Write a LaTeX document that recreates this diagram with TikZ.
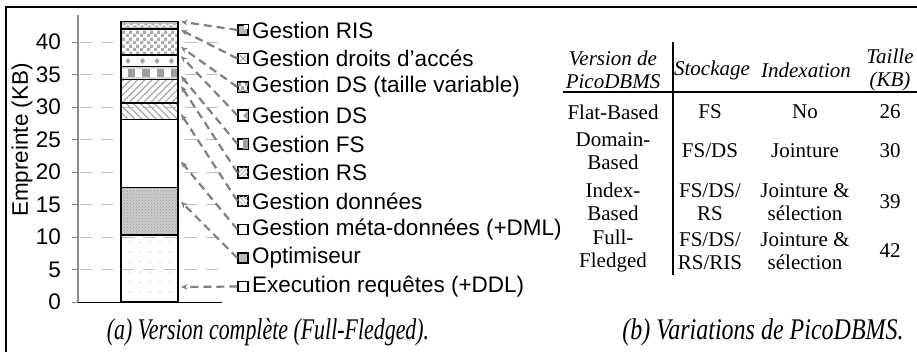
\documentclass[tikz,border=0pt]{standalone}
\usepackage{fontspec}
\setmainfont{Liberation Serif}
\setsansfont{Liberation Sans}
\usepackage{graphicx}
\usetikzlibrary{patterns,patterns.meta,arrows.meta}
\pgfdeclarepatternformonly{bigcheck}{\pgfpointorigin}{\pgfpoint{7pt}{7pt}}{\pgfpoint{7pt}{7pt}}{%
  \pgfpathrectangle{\pgfpointorigin}{\pgfpoint{3.5pt}{3.5pt}}%
  \pgfpathrectangle{\pgfpoint{3.5pt}{3.5pt}}{\pgfpoint{3.5pt}{3.5pt}}%
  \pgfusepath{fill}}
\begin{document}
\begin{tikzpicture}[x=1pt,y=-1pt,
  lbl/.style={font=\sffamily\fontsize{22.5}{24}\selectfont, anchor=west, inner sep=0pt},
  ticklbl/.style={font=\sffamily\fontsize{22.5}{24}\selectfont, anchor=east, inner sep=0pt},
  seg/.style={draw=black, line width=1.3pt},
  legbox/.style={draw=black, line width=1.2pt, minimum size=10pt, inner sep=0pt},
  lead/.style={draw=gray, line width=2.2pt, dash pattern=on 8pt off 5pt, -{Stealth[length=6.5pt,width=5.5pt]}},
  gridln/.style={draw=gray!50, line width=0.8pt, dash pattern=on 12pt off 9pt},
  tabtxt/.style={font=\fontsize{21}{23}\selectfont, align=center, inner sep=0pt},
  tabhead/.style={font=\itshape\fontsize{21}{23}\selectfont, align=center, inner sep=0pt},
  captxt/.style={font=\itshape\fontsize{30}{32}\selectfont, inner sep=0pt}
]
\useasboundingbox (0,0) rectangle (917,352);
% frame
\draw[line width=1.6pt] (6,353) -- (6,7) -- (918,7);
% grid and ticks
\foreach \v in {5,10,...,40}{
  \draw[gridln] (80,{302-6.5*\v}) -- (222,{302-6.5*\v});
}
\foreach \v in {0,5,...,40}{
  \draw[gray, line width=0.8pt] (72,{302-6.5*\v}) -- (78,{302-6.5*\v});
  \node[ticklbl] (t\v) at (61,{302-6.5*\v}) {\v};
}
\draw[gray!90, line width=1.5pt] (78,15) -- (78,302);
\draw[black, line width=1pt] (78,302) -- (222,302);
\node[rotate=90, font=\sffamily\fontsize{22.5}{24}\selectfont, inner sep=0pt] (ytitle) at (22,140) {Empreinte (KB)};
% bar segments (y = 302 - 6.5 v)
\def\bl{121}\def\br{178}
% Execution 0-10.3
\path[pattern={Dots[distance=10pt,radius=0.7pt]}, pattern color=gray!80] (\bl,302) rectangle (\br,235.05);
\draw[seg] (\bl,302) rectangle (\br,235.05);
% Optimiseur 10.3-17.6
\fill[gray!40] (\bl,235.05) rectangle (\br,187.6);
\path[pattern=crosshatch dots, pattern color=gray!80] (\bl,235.05) rectangle (\br,187.6);
\draw[seg] (\bl,235.05) rectangle (\br,187.6);
% meta 17.6-28.1
\draw[seg, fill=white] (\bl,187.6) rectangle (\br,119.35);
% donnees 28.1-30.6
\path[pattern={Lines[angle=-45,distance=5pt,line width=1.2pt]}, pattern color=gray!70] (\bl,119.35) rectangle (\br,103.1);
\draw[seg] (\bl,119.35) rectangle (\br,103.1);
% RS 30.6-34.2
\path[pattern={Lines[angle=45,distance=5pt,line width=1.2pt]}, pattern color=gray!70] (\bl,103.1) rectangle (\br,79.7);
\draw[seg] (\bl,103.1) rectangle (\br,79.7);
% FS 34.2-36.2
\fill[gray!30] (\bl,79.7) rectangle (\br,66.7);
\foreach \k in {0,...,7}{
  \pgfmathsetmacro{\xa}{121+7.125*\k}
  \pgfmathsetmacro{\xb}{121+7.125*(\k+1)}
  \ifodd\k
    \fill[gray!75] (\xa,69.5) rectangle (\xb,77);
  \else
    \fill[white] (\xa,69.5) rectangle (\xb,77);
  \fi
}
\draw[seg] (\bl,79.7) rectangle (\br,66.7);
% DS 36.2-38
\fill[white] (\bl,66.7) rectangle (\br,55);
\foreach \xx in {128,142.5,157,171.5}{
  \fill[gray!70] (\xx,58) -- ++(2.5,3) -- ++(-2.5,3) -- ++(-2.5,-3) -- cycle;
}
\draw[seg] (\bl,66.7) rectangle (\br,55);
% DS taille 38-42
\fill[white] (\bl,55) rectangle (\br,29);
\path[pattern=bigcheck, pattern color=gray!65] (\bl,55) rectangle (\br,29);
\draw[seg] (\bl,55) rectangle (\br,29);
% RIS / droits 42-43.1
\fill[gray!55] (\bl,29) rectangle (\br,21.8);
\draw[white, line width=1.2pt] plot[domain=122:177, samples=60] (\x,{25.4+1.3*sin(\x*50)});
\draw[seg] (\bl,29) rectangle (\br,21.8);
% arrow targets
\coordinate (a0) at (181,21.7);
\coordinate (a1) at (181,30);
\coordinate (a2) at (181,47);
\coordinate (a3) at (181,56);
\coordinate (a4) at (181,76);
\coordinate (a5) at (181,86);
\coordinate (a6) at (181,114);
\coordinate (a7) at (181,161.5);
\coordinate (a8) at (181,201.7);
\coordinate (a9) at (181,287);
% legend boxes
\node[legbox, fill=gray!55] (b0) at (243,30) {};
\fill[white] ([xshift=-1pt,yshift=-1pt]b0.north east) rectangle ([xshift=-5pt,yshift=-5pt]b0.north east);
\node[legbox, fill=white] (b1) at (243,58.5) {};
\draw[gray, line width=0.7pt] ([shift={(2.5pt,2.5pt)}]b1.south west) -- ([shift={(-2.5pt,-2.5pt)}]b1.north east);
\draw[gray, line width=0.7pt] ([shift={(2.5pt,-2.5pt)}]b1.north west) -- ([shift={(-2.5pt,2.5pt)}]b1.south east);
\node[legbox, fill=white] (b2) at (243,87) {};
\path[pattern=bigcheck, pattern color=gray!75] (b2.south west) rectangle (b2.north east);
\draw[black, line width=1.2pt] (b2.south west) rectangle (b2.north east);
\node[legbox, fill=white] (b3) at (243,115.5) {};
\fill[gray!70] (b3.north east) -- (b3.center) -- (b3.south east) -- cycle;
\draw[black, line width=1.2pt] (b3.south west) rectangle (b3.north east);
\node[legbox, fill=white] (b4) at (243,144) {};
\fill[gray!75] (b4.north) rectangle (b4.south east);
\draw[black, line width=1.2pt] (b4.south west) rectangle (b4.north east);
\node[legbox, fill=white] (b5) at (243,172.5) {};
\path[pattern={Lines[angle=45,distance=3pt,line width=0.8pt]}, pattern color=gray!70] (b5.south west) rectangle (b5.north east);
\draw[black, line width=1.2pt] (b5.south west) rectangle (b5.north east);
\node[legbox, fill=white] (b6) at (243,201) {};
\path[pattern={Lines[angle=-45,distance=3pt,line width=0.8pt]}, pattern color=gray!70] (b6.south west) rectangle (b6.north east);
\draw[black, line width=1.2pt] (b6.south west) rectangle (b6.north east);
\node[legbox, fill=white] (b7) at (243,229.5) {};
\node[legbox, fill=gray!55] (b8) at (243,258) {};
\node[legbox, fill=white] (b9) at (243,286.5) {};
% legend labels
\node[lbl] (l0) at (252,30) {Gestion RIS};
\node[lbl] (l1) at (252,58.5) {Gestion droits d'accés};
\node[lbl] (l2) at (252,87) {Gestion DS (taille variable)};
\node[lbl] (l3) at (252,115.5) {Gestion DS};
\node[lbl] (l4) at (252,144) {Gestion FS};
\node[lbl] (l5) at (252,172.5) {Gestion RS};
\node[lbl] (l6) at (252,201) {Gestion données};
\node[lbl] (l7) at (252,229.5) {Gestion méta-données (+DML)};
\node[lbl] (l8) at (252,258) {Optimiseur};
\node[lbl] (l9) at (252,286.5) {Execution requêtes (+DDL)};
% leader arrows
\foreach \i in {0,...,9}{
  \draw[lead] (b\i.west) -- (a\i);
}
% table
\draw[line width=1.6pt] (673,42) -- (673,275);
\draw[line width=1.6pt] (563,92) -- (918,92);
\node[tabhead] (h1) at (613,70) {Version de\\PicoDBMS};
\node[tabhead] (h2) at (712,70) {Stockage};
\node[tabhead] (h3) at (806,70) {Indexation};
\node[tabhead] (h4) at (890,70) {Taille\\(KB)};
\node[tabtxt] (r1c1) at (613,112) {Flat-Based};
\node[tabtxt] (r1c2) at (710,112) {FS};
\node[tabtxt] (r1c3) at (805,112) {No};
\node[tabtxt] (r1c4) at (890,112) {26};
\node[tabtxt] (r2c1) at (613,151) {Domain-\\Based};
\node[tabtxt] (r2c2) at (710,151) {FS/DS};
\node[tabtxt] (r2c3) at (805,151) {Jointure};
\node[tabtxt] (r2c4) at (890,151) {30};
\node[tabtxt] (r3c1) at (613,202) {Index-\\Based};
\node[tabtxt] (r3c2) at (710,202) {FS/DS/\\RS};
\node[tabtxt] (r3c3) at (805,202) {Jointure \&\\sélection};
\node[tabtxt] (r3c4) at (890,202) {39};
\node[tabtxt] (r4c1) at (613,251) {Full-\\Fledged};
\node[tabtxt] (r4c2) at (710,251) {FS/DS/\\RS/RIS};
\node[tabtxt] (r4c3) at (805,251) {Jointure \&\\sélection};
\node[tabtxt] (r4c4) at (890,251) {42};
% captions
\node[captxt] (capa) at (268,332) {\scalebox{0.73}[1]{(a) Version complète (Full-Fledged).}};
\node[captxt] (capb) at (763,332) {\scalebox{0.8}[1]{(b) Variations de PicoDBMS.}};
\end{tikzpicture}
\end{document}
